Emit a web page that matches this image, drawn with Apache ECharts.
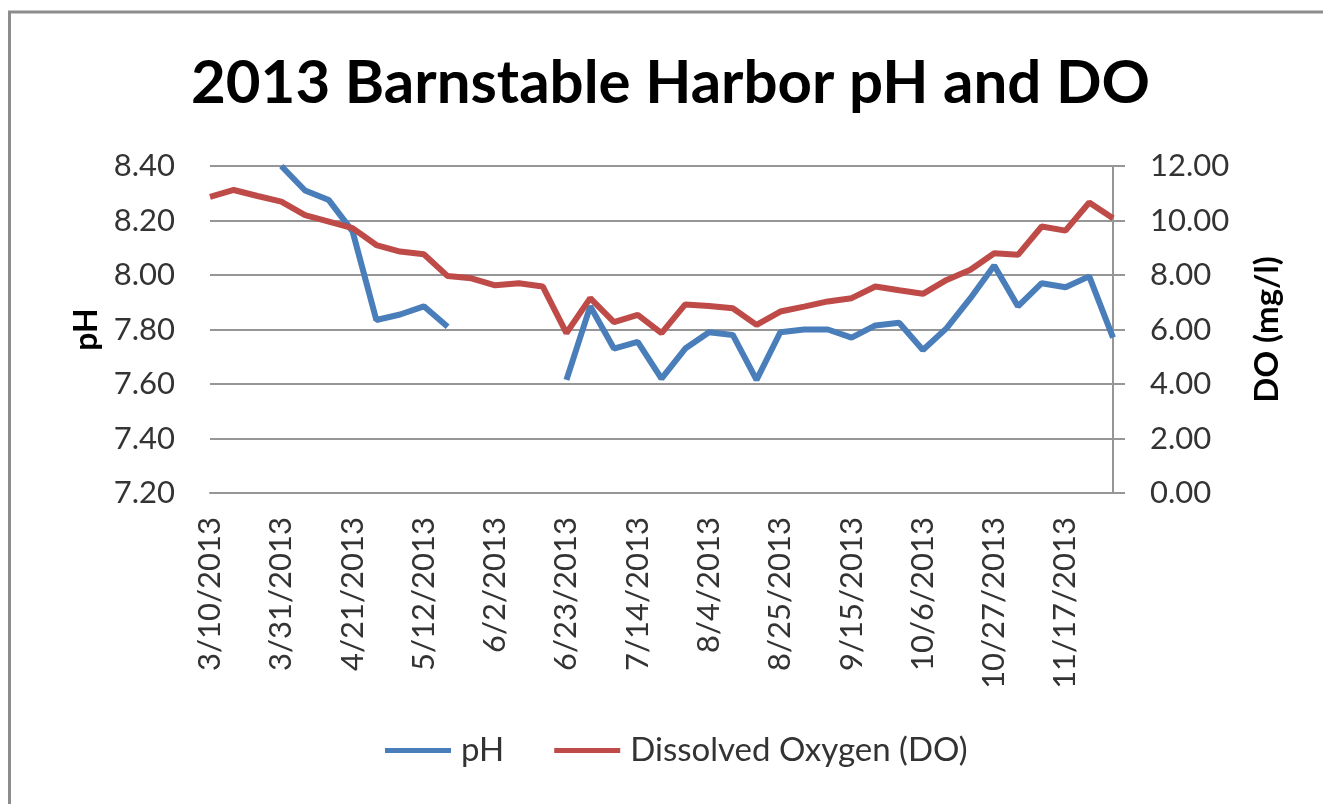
<!DOCTYPE html>
<html><head><meta charset="utf-8">
<script src="https://cdn.jsdelivr.net/npm/echarts@6/dist/echarts.min.js"></script>
<style>html,body{margin:0;padding:0;background:#fff}#chart{width:1323px;height:804px}</style>
</head><body><div id="chart"></div>
<script>
const dates = ['3/10/2013','3/17/2013','3/24/2013','3/31/2013','4/7/2013','4/14/2013','4/21/2013','4/28/2013','5/5/2013','5/12/2013','5/19/2013','5/26/2013','6/2/2013','6/9/2013','6/16/2013','6/23/2013','6/30/2013','7/7/2013','7/14/2013','7/21/2013','7/28/2013','8/4/2013','8/11/2013','8/18/2013','8/25/2013','9/1/2013','9/8/2013','9/15/2013','9/22/2013','9/29/2013','10/6/2013','10/13/2013','10/20/2013','10/27/2013','11/3/2013','11/10/2013','11/17/2013','11/24/2013','12/1/2013'];
const phValues = [null,null,null,8.40,8.31,8.275,8.16,7.835,7.855,7.885,7.81,null,null,null,null,7.615,7.885,7.73,7.755,7.62,7.73,7.79,7.78,7.615,7.79,7.80,7.80,7.77,7.815,7.825,7.725,7.805,7.915,8.035,7.885,7.97,7.955,7.995,7.77];
const doValues = [10.87,11.12,10.9,10.69,10.2,9.96,9.72,9.1,8.86,8.76,7.96,7.88,7.62,7.7,7.58,5.87,7.15,6.27,6.54,5.87,6.92,6.86,6.78,6.17,6.66,6.84,7.03,7.15,7.58,7.44,7.31,7.82,8.19,8.8,8.74,9.78,9.63,10.66,10.08];
const phAxis = {min: 7.2, max: 8.4, step: 0.2};
const doAxis = {min: 0, max: 12, step: 2};
const titleText = '2013 Barnstable Harbor pH and DO';
const phName = 'pH';
const doName = 'Dissolved Oxygen (DO)';
const doAxisName = 'DO (mg/l)';

const FONT = 'Lato, "Open Sans", sans-serif';
const GRID = '#969696';
const chart = echarts.init(document.getElementById('chart'));
chart.setOption({
  animation: false,
  backgroundColor: '#fff',
  graphic: [{
    type: 'rect', silent: true, z: -1,
    shape: {x: 9.5, y: 12, width: 1400, height: 900},
    style: {fill: 'none', stroke: '#8c8c8c', lineWidth: 3}
  }],
  title: {
    text: titleText, left: 191, top: 54, padding: 0,
    textStyle: {fontFamily: FONT, fontWeight: 'bold', fontSize: 60, color: '#000'}
  },
  legend: {
    bottom: 32, left: 380, itemGap: 50, itemWidth: 66, itemHeight: 5,
    padding: 5,
    icon: 'rect',
    textStyle: {fontFamily: FONT, fontSize: 33, color: '#333', padding: [0, 0, 0, 5]},
    data: [phName, doName]
  },
  grid: {left: 210, right: 210, top: 166, bottom: 311, containLabel: false},
  xAxis: {
    type: 'category', data: dates, boundaryGap: false,
    axisLine: {show: true, lineStyle: {color: GRID, width: 2}},
    axisTick: {show: false},
    axisLabel: {interval: 2, rotate: 90, margin: 24, fontFamily: FONT, fontSize: 31, color: '#333'},
    splitLine: {show: false}
  },
  yAxis: [{
    type: 'value', min: phAxis.min, max: phAxis.max, interval: phAxis.step,
    name: phName, nameLocation: 'middle', nameRotate: 90, nameGap: 104,
    nameTextStyle: {fontFamily: FONT, fontSize: 32, fontWeight: 'bold', color: '#000'},
    axisLine: {show: false}, axisTick: {show: false},
    axisLabel: {margin: 35, fontFamily: FONT, fontSize: 31, color: '#333', formatter: v => v.toFixed(2)},
    splitLine: {show: true, lineStyle: {color: GRID, width: 2}}
  }, {
    type: 'value', position: 'right', min: doAxis.min, max: doAxis.max, interval: doAxis.step,
    name: doAxisName, nameLocation: 'middle', nameRotate: 90, nameGap: 138,
    nameTextStyle: {fontFamily: FONT, fontSize: 33, fontWeight: 'bold', color: '#000'},
    axisLine: {show: true, lineStyle: {color: GRID, width: 2}},
    axisTick: {show: true, inside: false, length: 12, lineStyle: {color: GRID, width: 2}},
    axisLabel: {margin: 37, fontFamily: FONT, fontSize: 31, color: '#333', formatter: v => v.toFixed(2)},
    splitLine: {show: false}
  }],
  series: [{
    name: phName, type: 'line', yAxisIndex: 0, data: phValues,
    showSymbol: false, symbol: 'none', connectNulls: false, clip: true,
    lineStyle: {color: '#4A7EBB', width: 6}, itemStyle: {color: '#4A7EBB'}
  }, {
    name: doName, type: 'line', yAxisIndex: 1, data: doValues,
    showSymbol: false, symbol: 'none', clip: true,
    lineStyle: {color: '#BE4B48', width: 6}, itemStyle: {color: '#BE4B48'}
  }]
});
</script></body></html>
